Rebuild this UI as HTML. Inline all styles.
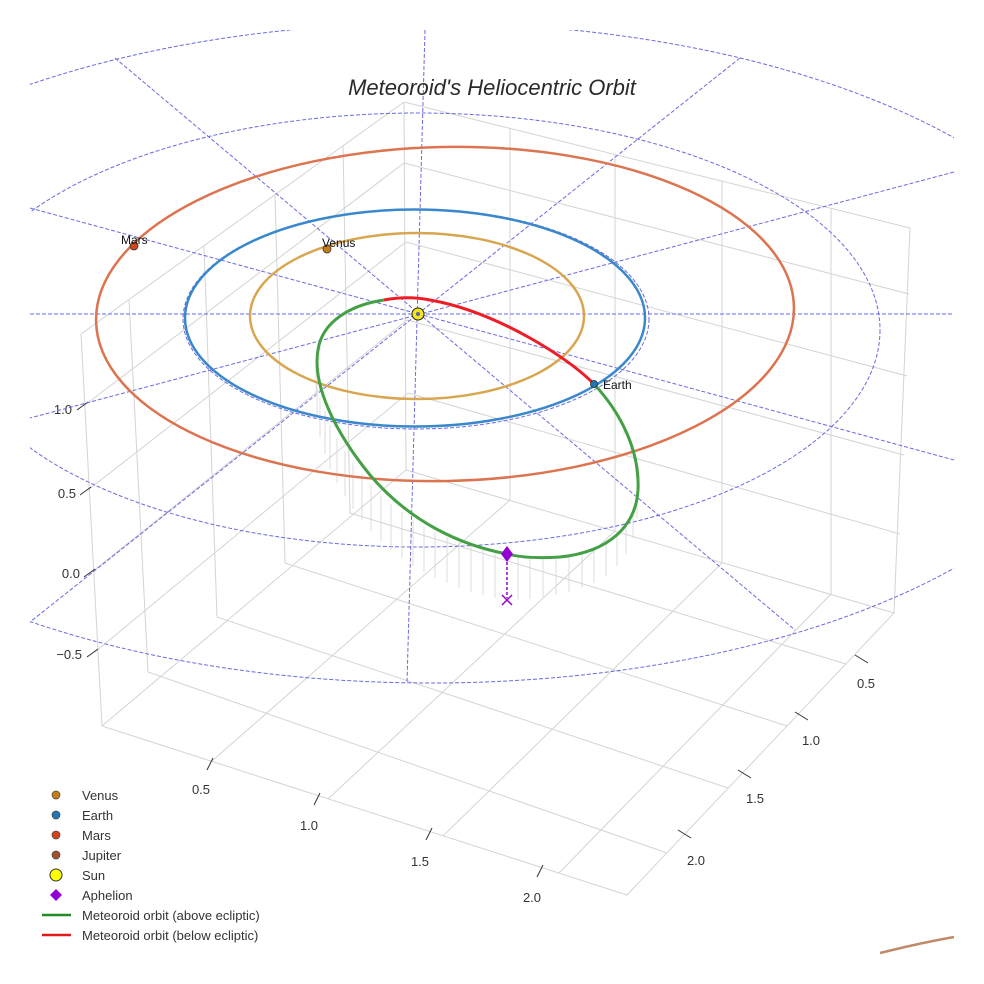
<!DOCTYPE html>
<html><head><meta charset="utf-8"><style>
html,body{margin:0;padding:0;background:#fff;}
svg{display:block;font-family:"Liberation Sans",sans-serif;}
</style></head><body>
<svg width="984" height="984" viewBox="0 0 984 984" xmlns="http://www.w3.org/2000/svg">
<defs><clipPath id="c"><rect x="30" y="30" width="924" height="924"/></clipPath></defs>
<rect width="984" height="984" fill="#fff"/>
<g stroke="#d4d4d4" stroke-width="1" fill="none">
  <path d="M81,334 L404,102 M102,726 L406,470 M81,334 L102,726 M404,102 L406,470"/>
  <path d="M85,405 L404,163 M88,490 L406,242 M92,572 L407,320 M95,652 L408,393"/>
  <path d="M148,672 L129,299 M217,617 L204,246 M285,563 L275,195 M350,513 L343,146"/>
  <path d="M404,102 L910,228 L894,613 L406,470"/>
  <path d="M404,163 L909,294 M406,242 L907,376 M407,320 L904,455 M408,393 L900,534"/>
  <path d="M510,128 L510,500 M615,155 L615,531 M722,181 L722,563 M831,208 L831,594"/>
  <path d="M102,726 L627,895 L894,613"/>
  <path d="M148,672 L667,853 M217,617 L728,788 M285,563 L787,726 M350,513 L846,664"/>
  <path d="M510,500 L212,761 M615,531 L328,799 M722,563 L443,836 M831,594 L559,873"/>
</g>
<g stroke="#333" stroke-width="1">
  <path d="M77,410 L88,402 M80,495 L91,487 M84,577 L95,569 M87,657 L98,649"/>
  <path d="M207,770 L213,758 M314,805 L320,793 M426,840 L432,828 M537,877 L543,865"/>
  <path d="M855,655 L868,663 M795,712 L808,720 M738,770 L751,778 M678,830 L691,838"/>
</g>
<g font-size="13" fill="#333">
  <text x="72" y="414" text-anchor="end">1.0</text>
  <text x="76" y="498" text-anchor="end">0.5</text>
  <text x="80" y="578" text-anchor="end">0.0</text>
  <text x="82" y="659" text-anchor="end">−0.5</text>
  <text x="201" y="794" text-anchor="middle">0.5</text>
  <text x="309" y="830" text-anchor="middle">1.0</text>
  <text x="420" y="866" text-anchor="middle">1.5</text>
  <text x="532" y="902" text-anchor="middle">2.0</text>
  <text x="866" y="688" text-anchor="middle">0.5</text>
  <text x="811" y="745" text-anchor="middle">1.0</text>
  <text x="755" y="803" text-anchor="middle">1.5</text>
  <text x="696" y="865" text-anchor="middle">2.0</text>
</g>
<g clip-path="url(#c)" stroke="#6a6ae0" stroke-width="1" fill="none" stroke-dasharray="4,2">
  <ellipse cx="431" cy="353" rx="690" ry="330"/>
  <ellipse cx="418" cy="330" rx="462" ry="217"/>
  <ellipse cx="416" cy="319" rx="233" ry="110"/>
  <path d="M30,314 L954,314"/>
  <path d="M425,30 L407,683"/>
  <path d="M115,58 L795,630"/>
  <path d="M740,58 L30,622"/>
  <path d="M30,208 L954,460"/>
  <path d="M954,172 L30,418"/>
</g>
<path stroke="#d6d6d6" stroke-width="0.8" fill="none" d="
M605,395 v4 M615,408 v8 M624,423 v12 M631,440 v16 M636,457 v20 M638,475 v24 M637,492 v27 M633,508 v30
M626,522 v32 M617,533 v33 M606,542 v34 M594,548 v35 M582,552 v36 M569,555 v37 M556,557 v38 M543,557 v40
M530,557 v42 M518,556 v44 M495,552 v46 M483,549 v46 M471,546 v46 M459,542 v46 M447,537 v46
M435,532 v46 M424,526 v46 M413,520 v46 M402,512 v46 M391,504 v46 M381,495 v46 M371,485 v46 M362,474 v46
M353,463 v46 M345,451 v45 M337,438 v45 M330,425 v44 M325,411 v43 M320,397 v40 M317,382 v36 M316,367 v30
M317,352 v20 M320,338 v12"/>
<g fill="none" stroke-width="2.5">
  <ellipse cx="445" cy="314" rx="349" ry="167" stroke="#dc7450" transform="rotate(-1.2 445 314)"/>
  <ellipse cx="415" cy="318" rx="230" ry="108.5" stroke="#3a88cc"/>
  <ellipse cx="417" cy="316" rx="167" ry="83" stroke="#d9a650"/>
  <path d="M880,953 Q920,943 954,937" stroke="#c08a6a"/>
  <path d="M594,384 C620,412 640,450 638,490 C636,525 610,552 560,557 C530,559 515,556 507,554 C460,545 410,522 370,475 C335,432 312,385 318,350 C322,322 350,305 384,300" stroke="#45a045" stroke-width="3"/>
  <path d="M384,300 C400,297 415,297 430,300 C470,307 505,324 530,338 C560,355 580,370 594,384" stroke="#ee1c24" stroke-width="3"/>
</g>
<circle cx="418" cy="314" r="6" fill="#f5e61a" stroke="#222" stroke-width="1"/>
<circle cx="418" cy="314" r="2" fill="#5566aa"/>
<circle cx="134" cy="246" r="4" fill="#d2461a" stroke="#333" stroke-width="0.8"/>
<circle cx="327" cy="249" r="4" fill="#c77d16" stroke="#333" stroke-width="0.8"/>
<circle cx="594" cy="384" r="3.5" fill="#1f77b4" stroke="#222" stroke-width="0.8"/>
<g font-size="12" fill="#111">
  <text x="121" y="244">Mars</text>
  <text x="322" y="247">Venus</text>
  <text x="603" y="389">Earth</text>
</g>
<path d="M507,557 L507,598" stroke="#9400d3" stroke-width="1.5" stroke-dasharray="3,2"/>
<path d="M507,546 L513,554 L507,562 L501,554 Z" fill="#9400d3"/>
<path d="M502,595 L512,605 M512,595 L502,605" stroke="#9400d3" stroke-width="1.5"/>
<text x="492" y="95" font-size="22" font-style="italic" fill="#2a2a2a" text-anchor="middle">Meteoroid's Heliocentric Orbit</text>
<g font-size="13" fill="#333">
  <circle cx="56" cy="795" r="4" fill="#c77d16" stroke="#444" stroke-width="0.7"/>
  <text x="82" y="800">Venus</text>
  <circle cx="56" cy="815" r="4" fill="#1f77b4" stroke="#444" stroke-width="0.7"/>
  <text x="82" y="820">Earth</text>
  <circle cx="56" cy="835" r="4" fill="#d2461a" stroke="#444" stroke-width="0.7"/>
  <text x="82" y="840">Mars</text>
  <circle cx="56" cy="855" r="4" fill="#a0522d" stroke="#444" stroke-width="0.7"/>
  <text x="82" y="860">Jupiter</text>
  <circle cx="56" cy="875" r="6" fill="#ffff00" stroke="#333" stroke-width="1"/>
  <text x="82" y="880">Sun</text>
  <path d="M56,889 L62,895 L56,901 L50,895 Z" fill="#9400d3"/>
  <text x="82" y="900">Aphelion</text>
  <path d="M42,915 L71,915" stroke="#228b22" stroke-width="2.5"/>
  <text x="82" y="920">Meteoroid orbit (above ecliptic)</text>
  <path d="M42,935 L71,935" stroke="#e31a1c" stroke-width="2.5"/>
  <text x="82" y="940">Meteoroid orbit (below ecliptic)</text>
</g>
</svg>
</body></html>
